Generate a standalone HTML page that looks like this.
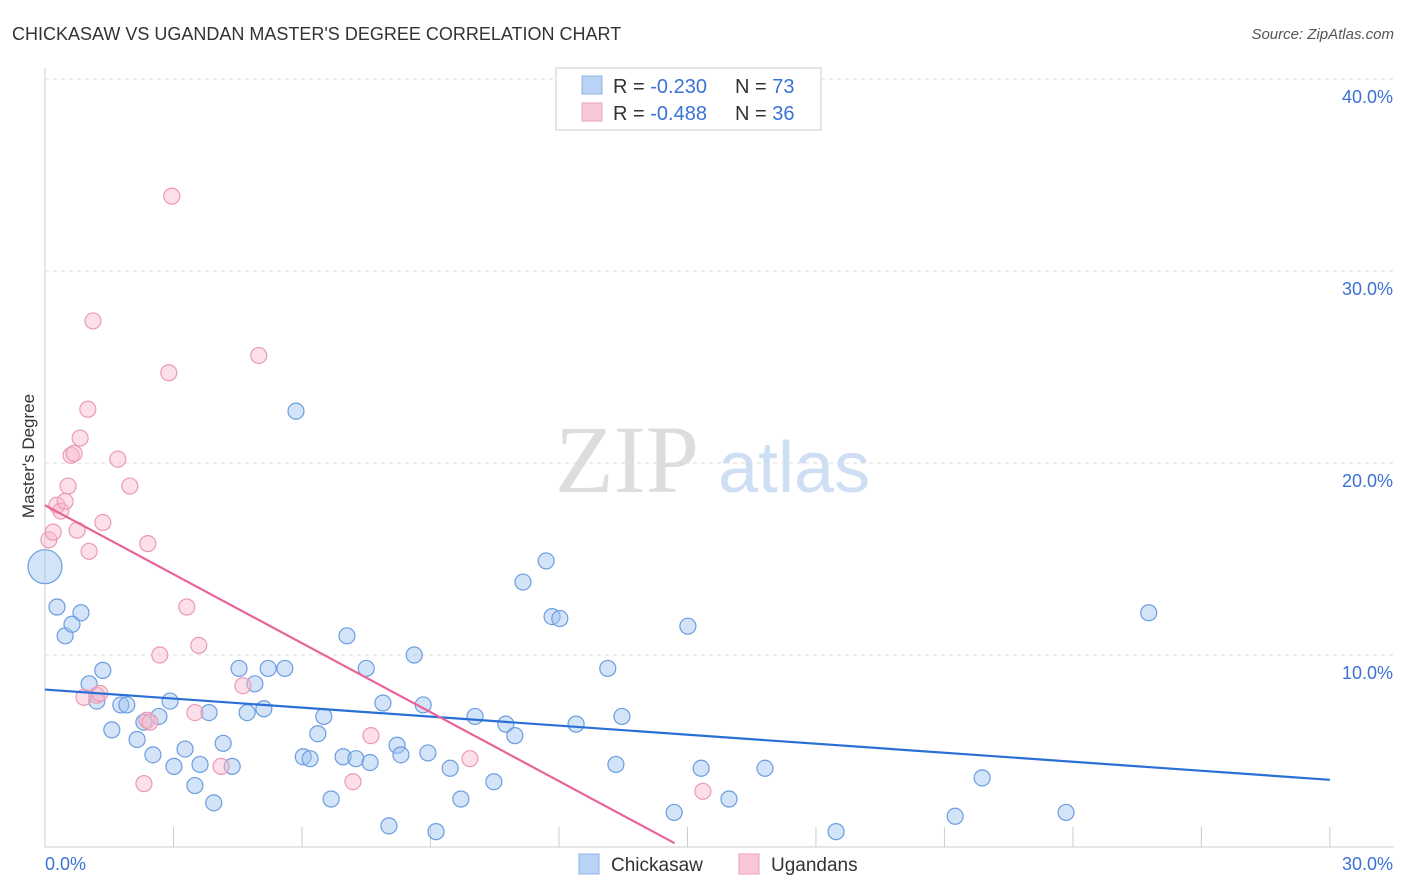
<!DOCTYPE html>
<html><head><meta charset="utf-8"><style>
body{margin:0;background:#fff;font-family:"Liberation Sans",sans-serif;}
svg{display:block}
</style></head><body>
<svg id="c" width="1406" height="892">
<text x="12" y="40" font-size="18" fill="#333">CHICKASAW VS UGANDAN MASTER'S DEGREE CORRELATION CHART</text>
<text x="1394" y="39" font-size="15" fill="#555" font-style="italic" text-anchor="end">Source: ZipAtlas.com</text>
<g id="grid"></g>
<text x="555" y="492" font-size="96" fill="#ddd" font-family="Liberation Serif,serif">ZIP</text>
<text x="718" y="492" font-size="72" fill="#cfdff3">atlas</text>
<text transform="translate(34,456) rotate(-90)" font-size="17" fill="#333" text-anchor="middle">Master's Degree</text>
<g id="pts"></g>
<g id="lines"></g>
<g>
<rect x="556" y="68" width="265" height="62" fill="#fff" stroke="#ccc"/>
<rect x="582" y="76" width="20" height="18" fill="#b8d3f5" stroke="#8fb5e8"/>
<text x="613" y="93" font-size="20" fill="#333">R = <tspan fill="#3a72d6">-0.230</tspan></text>
<text x="735" y="93" font-size="20" fill="#333">N = <tspan fill="#3a72d6">73</tspan></text>
<rect x="582" y="103" width="20" height="18" fill="#f9c8d8" stroke="#eba0ba"/>
<text x="613" y="120" font-size="20" fill="#333">R = <tspan fill="#3a72d6">-0.488</tspan></text>
<text x="735" y="120" font-size="20" fill="#333">N = <tspan fill="#3a72d6">36</tspan></text>
</g>
<g>
<rect x="579" y="854" width="20" height="20" fill="#b8d3f5" stroke="#8fb5e8"/>
<text x="611" y="871" font-size="19" fill="#333">Chickasaw</text>
<rect x="739" y="854" width="20" height="20" fill="#f9c8d8" stroke="#eba0ba"/>
<text x="771" y="871" font-size="19" fill="#333">Ugandans</text>
</g>
</svg>
<script>
const yTicks=[10,20,30,40];
const xTickLabels=["0.0%","30.0%"];
const blueX=[0.0,0.28,0.84,0.47,0.63,1.35,1.03,1.21,1.77,1.91,1.56,2.15,2.31,2.52,2.66,2.92,3.01,3.27,3.50,3.62,3.83,3.94,4.16,4.37,4.53,4.72,4.90,5.11,5.21,5.60,5.86,6.03,6.19,6.37,6.51,6.68,6.96,7.05,7.26,7.50,7.59,7.89,8.03,8.22,8.31,8.62,8.83,8.94,9.13,9.46,9.71,10.04,10.48,10.76,10.97,11.16,11.70,11.84,12.02,12.40,13.14,13.33,13.47,14.69,15.01,15.32,15.97,16.81,18.47,21.25,21.88,23.84,25.77];
const blueY=[14.6,12.5,12.2,11.0,11.6,9.2,8.5,7.6,7.4,7.4,6.1,5.6,6.5,4.8,6.8,7.6,4.2,5.1,3.2,4.3,7.0,2.3,5.4,4.2,9.3,7.0,8.5,7.2,9.3,9.3,22.7,4.7,4.6,5.9,6.8,2.5,4.7,11.0,4.6,9.3,4.4,7.5,1.1,5.3,4.8,10.0,7.4,4.9,0.8,4.1,2.5,6.8,3.4,6.4,5.8,13.8,14.9,12.0,11.9,6.4,9.3,4.3,6.8,1.8,11.5,4.1,2.5,4.1,0.8,1.6,3.6,1.8,12.2];
const bigIdx=0;
const pinkX=[0.09,0.19,0.28,0.37,0.47,0.54,0.61,0.68,0.75,0.82,1.00,1.03,1.12,0.91,1.21,1.28,1.35,1.70,1.98,2.31,2.38,2.40,2.68,2.89,2.96,3.31,3.50,3.59,4.11,4.62,4.99,7.19,7.61,9.92,15.36,2.45];
const pinkY=[16.0,16.4,17.8,17.5,18.0,18.8,20.4,20.5,16.5,21.3,22.8,15.4,27.4,7.8,7.9,8.0,16.9,20.2,18.8,3.3,6.6,15.8,10.0,24.7,33.9,12.5,7.0,10.5,4.2,8.4,25.6,3.4,5.8,4.6,2.9,6.5];
const blueLine=[[0,8.2],[30,3.5]];
const pinkLine=[[0,17.8],[14.7,0.2]];
const X=v=>45+v*42.83, Y=v=>847-v*19.2;
const NS="http://www.w3.org/2000/svg";
function mk(t,a,p){const e=document.createElementNS(NS,t);for(const k in a)e.setAttribute(k,a[k]);p.appendChild(e);return e;}
const grid=document.getElementById('grid');
mk('line',{x1:45,y1:68,x2:45,y2:847,stroke:'#ccc'},grid);
mk('line',{x1:45,y1:847,x2:1394,y2:847,stroke:'#ccc'},grid);
yTicks.forEach(t=>{
 const g=mk('line',{x1:45,y1:Y(t),x2:1394,y2:Y(t),stroke:'#ddd','stroke-dasharray':'4,4'},grid);
 
 
 const tx=mk('text',{x:1393,y:Y(t)+24,'font-size':18,fill:'#3a72d6','text-anchor':'end'},grid);
 tx.textContent=t.toFixed(1)+'%';
 
 
});
for(let i=0;i<=10;i++){
 const l=mk('line',{x1:X(i*3),y1:827,x2:X(i*3),y2:847,stroke:'#ccc'},grid);
 
 
}
const x0=mk('text',{x:45,y:870,'font-size':18,fill:'#3a72d6'},grid);x0.textContent=xTickLabels[0];


const x1=mk('text',{x:1393,y:870,'font-size':18,fill:'#3a72d6','text-anchor':'end'},grid);x1.textContent=xTickLabels[1];


const pts=document.getElementById('pts');
blueX.forEach((v,i)=>{
 const c=mk('circle',{cx:X(v),cy:Y(blueY[i]),r:i===bigIdx?17:8,fill:'rgba(160,195,240,0.45)',stroke:'#6b9de0','stroke-width':1.2},pts);
 
 
});
pinkX.forEach((v,i)=>{
 const c=mk('circle',{cx:X(v),cy:Y(pinkY[i]),r:8,fill:'rgba(248,185,205,0.45)',stroke:'#eb9ab6','stroke-width':1.2},pts);
 
 
});
const ln=document.getElementById('lines');
const bl=mk('line',{x1:X(blueLine[0][0]),y1:Y(blueLine[0][1]),x2:X(blueLine[1][0]),y2:Y(blueLine[1][1]),stroke:'#2a6fd6','stroke-width':2.2},ln);


const pl=mk('line',{x1:X(pinkLine[0][0]),y1:Y(pinkLine[0][1]),x2:X(pinkLine[1][0]),y2:Y(pinkLine[1][1]),stroke:'#e8649a','stroke-width':2.2},ln);


</script>
</body></html>
